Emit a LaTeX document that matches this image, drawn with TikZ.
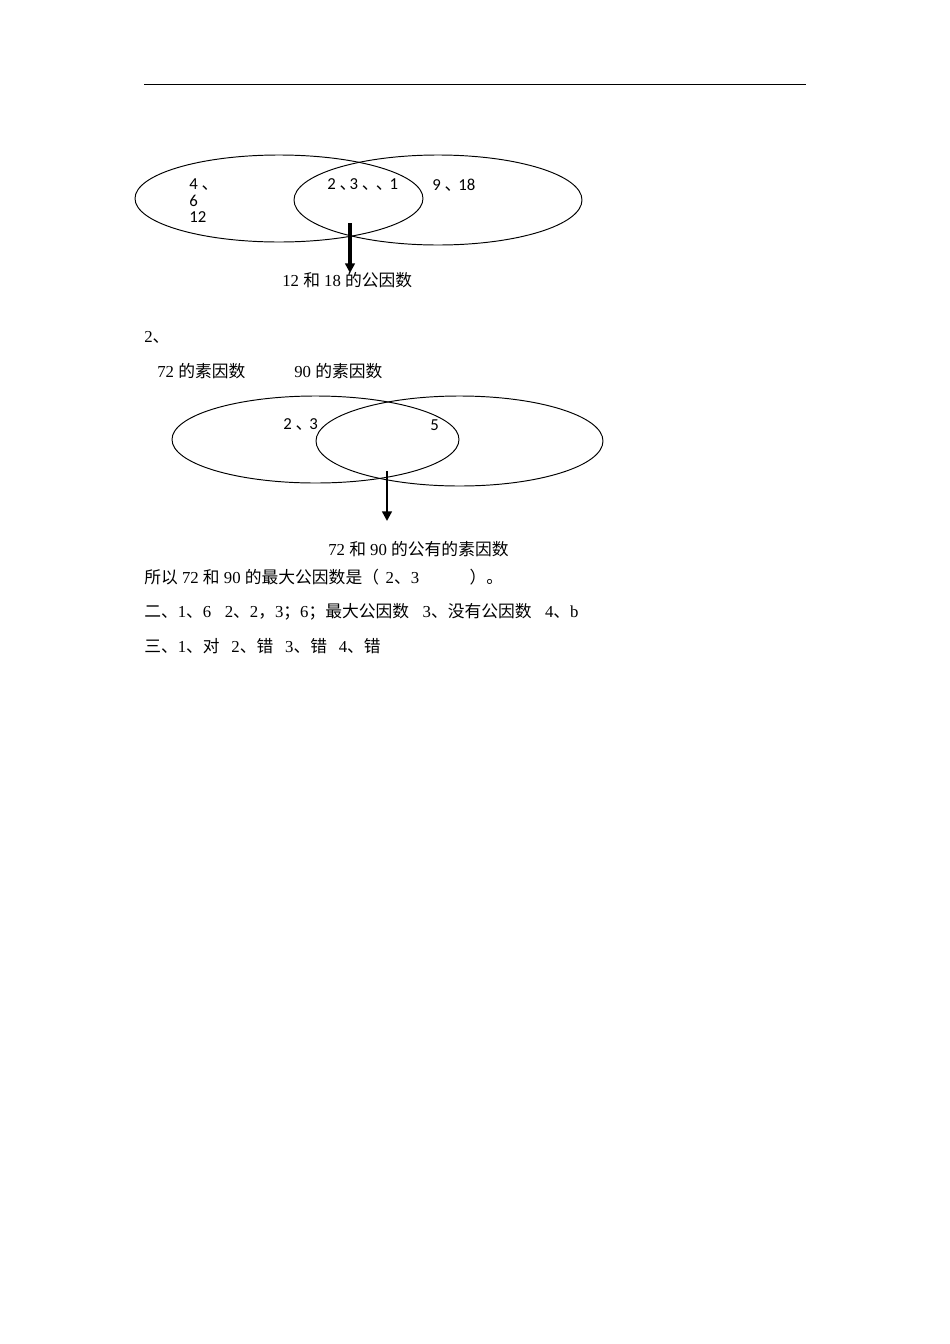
\documentclass[tikz,border=0pt]{standalone}
\usepackage{fontspec}
\setmainfont{Liberation Serif}
\newfontfamily\numfont{Carlito}
\newfontfamily\cjk{Noto Sans CJK SC}
\newcommand{\dun}{{\cjk\makebox[0.6em][l]{、}}}
\usetikzlibrary{arrows.meta}
\begin{document}
\begin{tikzpicture}[x=0.6263pt,y=-0.6263pt]
    \tikzset{>={Triangle[width=6pt,length=6pt]}, txt/.style={anchor=west,inner sep=0pt,font=\fontsize{10.5}{12}\selectfont},
      num/.style={anchor=west,inner sep=0pt,font=\numfont\fontsize{10.5}{12}\selectfont},
      venn/.style={draw,line width=0.6pt}}
    \useasboundingbox (0,0) rectangle (950,1344);
    \coordinate (L) at (144,84);
    \coordinate (R) at (806,84);
    \draw[line width=0.6pt] (L) -- (R);
    % first diagram
    \draw[venn] (279,198.5) ellipse (144 and 43.5);
    \draw[venn] (438,200) ellipse (144 and 45);
    \node[num] (a1) at (189,185) {4 \dun};
    \node[num] (a2) at (189,201) {6};
    \node[num] (a3) at (189,217) {12};
    \node[num] (b) at (327,185) {2 \dun3 \dun{} \dun{} 1};
    \node[num] (c) at (432,185) {9 \dun{} 18};
    \coordinate (P) at (350,223);
    \coordinate (Q) at (350,273);
    \draw[->,line width=2pt] (P) -- (Q);
    \node[txt] (d) at (282,280) {12 {\cjk 和} 18 {\cjk 的公因数}};
    % second diagram
    \node[txt] (e) at (144,337) {2{\cjk 、}};
    \node[txt] (f) at (157,371) {72 {\cjk 的素因数}};
    \node[txt] (g) at (294,371) {90 {\cjk 的素因数}};
    \draw[venn] (315.5,439.5) ellipse (143.5 and 43.5);
    \draw[venn] (459.5,441) ellipse (143.5 and 45);
    \node[num] (h) at (283,425) {2 \dun{} 3};
    \node[num] (k) at (430,425) {5};
    \coordinate (M) at (387,471);
    \coordinate (N) at (387,521);
    \draw[->,line width=1.4pt] (M) -- (N);
    \node[txt] (m) at (328,549) {72 {\cjk 和} 90 {\cjk 的公有的素因数}};
    % answers
    \node[txt] (n) at (144,577) {{\cjk 所以} 72 {\cjk 和} 90 {\cjk 的最大公因数是（}\hspace{0.4em}2{\cjk 、}3\hspace{3em}{\cjk ）。}};
    \node[txt] (o) at (144,612) {{\cjk 二、}1{\cjk 、}6\hspace{0.8em}2{\cjk 、}2{\cjk ，}3{\cjk ；}6{\cjk ；最大公因数}\hspace{0.8em}3{\cjk 、没有公因数}\hspace{0.8em}4{\cjk 、}b};
    \node[txt] (p) at (144,646) {{\cjk 三、}1{\cjk 、对}\hspace{0.7em}2{\cjk 、错}\hspace{0.7em}3{\cjk 、错}\hspace{0.7em}4{\cjk 、错}};
\end{tikzpicture}
\end{document}
